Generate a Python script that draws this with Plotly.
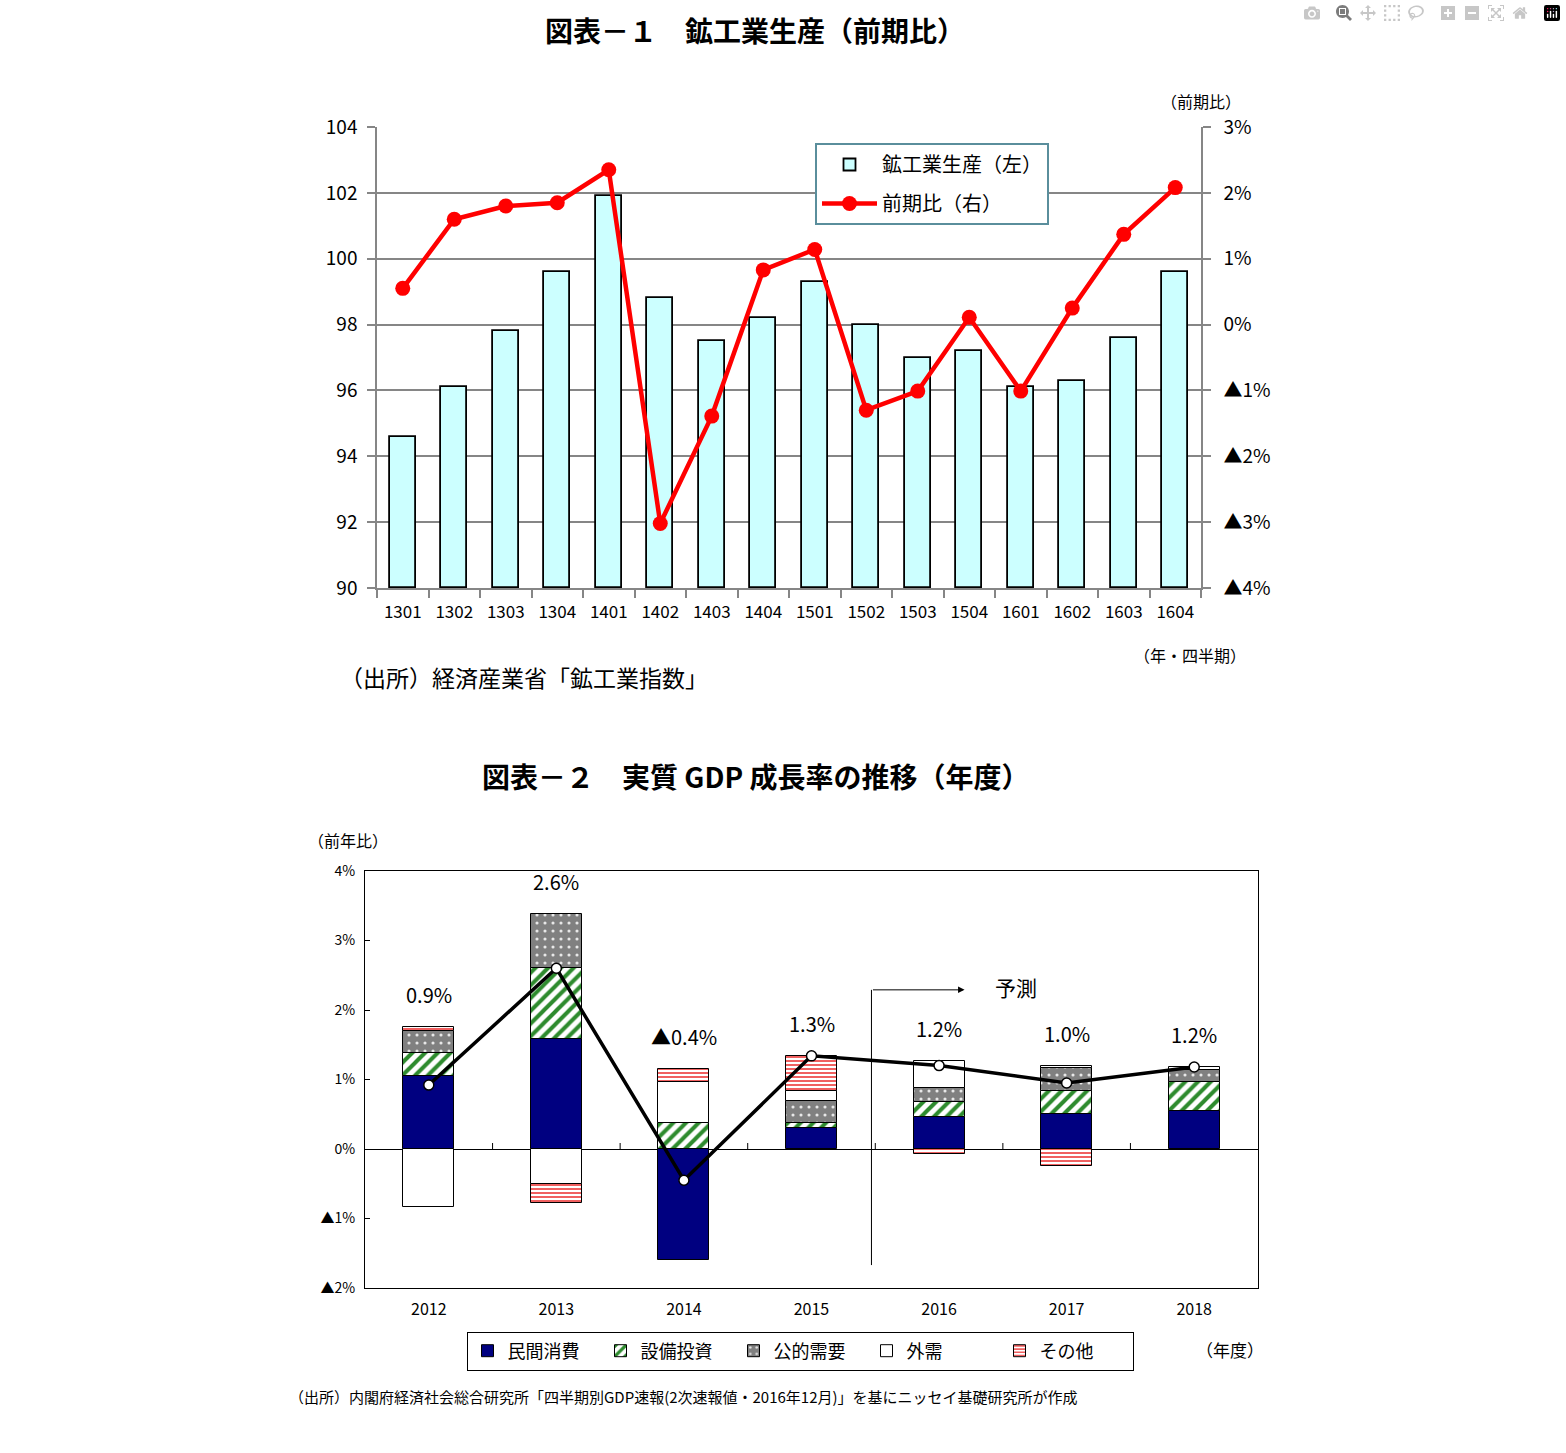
import plotly.graph_objects as go

W, H = 1566, 1453
JP = "Noto Sans CJK JP"

# ---------------- Chart 1 data ----------------
quarters = ["1301", "1302", "1303", "1304", "1401", "1402", "1403", "1404",
            "1501", "1502", "1503", "1504", "1601", "1602", "1603", "1604"]
production = [94.6, 96.1, 97.8, 99.6, 101.9, 98.8, 97.5, 98.2,
              99.3, 98.0, 97.0, 97.2, 96.1, 96.3, 97.6, 99.6]
qoq_change = [0.55, 1.60, 1.80, 1.85, 2.35, -3.02, -1.39, 0.83,
              1.14, -1.30, -1.01, 0.11, -1.01, 0.25, 1.37, 2.08]
left_ticks = [90, 92, 94, 96, 98, 100, 102, 104]
right_ticks = [-4, -3, -2, -1, 0, 1, 2, 3]

# ---------------- Chart 2 data ----------------
years = ["2012", "2013", "2014", "2015", "2016", "2017", "2018"]
private_consumption = [1.05, 1.59, -1.60, 0.30, 0.46, 0.50, 0.55]
capital_investment = [0.33, 1.01, 0.37, 0.08, 0.21, 0.33, 0.42]
public_demand = [0.32, 0.78, None, 0.31, 0.21, 0.33, 0.17]
external_demand = [-0.84, -0.50, 0.59, 0.15, 0.39, 0.03, 0.04]
others = [0.05, -0.28, 0.19, 0.50, -0.07, -0.25, None]
gdp_growth = [0.92, 2.60, -0.45, 1.34, 1.20, 0.95, 1.18]
gdp_labels = [0.9, 2.6, -0.4, 1.3, 1.2, 1.0, 1.2]
gdp_ticks = [-2, -1, 0, 1, 2, 3, 4]


def tri(v, dec=0):
    return ("▲" if v < 0 else "") + f"{abs(v):.{dec}f}%"


def px(x, y):
    return x / W, 1 - y / H


fig = go.Figure()

# ---- chart 1 traces
fig.add_trace(go.Bar(
    x=quarters, y=[p - 90 for p in production], base=90, name="鉱工業生産（左）",
    marker=dict(color="#CCFFFF", line=dict(color="black", width=1.8)),
    width=0.5, xaxis="x", yaxis="y", legend="legend", legendgroup="g1",
    hovertext=[str(p) for p in production],
))
fig.add_trace(go.Scatter(
    x=quarters, y=qoq_change, name="前期比（右）", mode="lines+markers",
    line=dict(color="#FF0000", width=4.5),
    marker=dict(color="#FF0000", size=15),
    xaxis="x", yaxis="y2", legend="legend", legendgroup="g2",
))

# ---- chart 2 traces
comp = [
    ("民間消費", private_consumption, dict(color="#000080")),
    ("設備投資", capital_investment,
     dict(color="white", pattern=dict(shape="/", fgcolor="#2E8B2E", bgcolor="white",
                                      size=9, solidity=0.45, fillmode="replace"))),
    ("公的需要", public_demand,
     dict(color="#808080", pattern=dict(shape=".", fgcolor="#E8E8E8", bgcolor="#808080",
                                        size=8, solidity=0.12, fillmode="replace"))),
    ("外需", external_demand, dict(color="white")),
    ("その他", others,
     dict(color="white", pattern=dict(shape="-", fgcolor="#F06060", bgcolor="white",
                                      size=4, solidity=0.5, fillmode="replace"))),
]
for name, vals, mk in comp:
    mk = dict(mk)
    mk["line"] = dict(color="black", width=1)
    fig.add_trace(go.Bar(
        x=years, y=vals, name=name, marker=mk, width=0.4,
        xaxis="x2", yaxis="y3", legend="legend2",
    ))
fig.add_trace(go.Scatter(
    x=years, y=gdp_growth, mode="lines+markers", showlegend=False,
    line=dict(color="black", width=3.5),
    marker=dict(color="white", size=10, line=dict(color="black", width=1.5)),
    xaxis="x2", yaxis="y3",
))

annotations = []
# GDP labels above stacks
for i, lab in enumerate(gdp_labels):
    top = sum(vals[i] for _, vals, _ in comp if vals[i] is not None and vals[i] > 0)
    annotations.append(dict(
        x=i, y=top, xref="x2", yref="y3", text=tri(lab, 1), showarrow=False,
        yanchor="bottom", yshift=16, font=dict(family=JP, size=20, color="black"),
    ))

# forecast arrow
annotations.append(dict(
    x=4.2, y=2.29, ax=3.47, ay=2.29, xref="x2", yref="y3", axref="x2", ayref="y3",
    text="", showarrow=True, arrowhead=2, arrowsize=1.3, arrowwidth=1, arrowcolor="black",
))

# text annotations
texts = [
    (755, 30, "<b>図表－１　鉱工業生産（前期比）</b>", 28, "center"),
    (755, 776, "<b>図表－２　実質 GDP 成長率の推移（年度）</b>", 28, "center"),
    (1201, 101, "（前期比）", 16, "center"),
    (1190, 655, "（年・四半期）", 16, "center"),
    (338, 677, "（出所）経済産業省「鉱工業指数」", 23, "left"),
    (348, 840, "（前年比）", 16, "center"),
    (1016, 987, "予測", 21, "center"),
    (1230, 1349, "（年度）", 17, "center"),
    (287, 1396, "（出所）内閣府経済社会総合研究所「四半期別GDP速報(2次速報値・2016年12月)」を基にニッセイ基礎研究所が作成", 15, "left"),
]
for tx, ty, t, s, al in texts:
    x, y = px(tx, ty)
    annotations.append(dict(x=x, y=y, xref="paper", yref="paper", text=t, showarrow=False,
                            xanchor=al, yanchor="middle",
                            font=dict(family=JP, size=s, color="black")))

shapes = [
    dict(type="line", xref="x2", yref="y3", x0=3.47, x1=3.47, y0=-1.67, y1=2.29,
         line=dict(color="black", width=1)),
]
for i in range(len(years) - 1):
    shapes.append(dict(type="line", xref="x2", yref="y3", x0=i + 0.5, x1=i + 0.5,
                       ysizemode="pixel", yanchor=0, y0=0, y1=6,
                       line=dict(color="black", width=1)))

x0, _ = px(377, 0)
x1, _ = px(1201, 0)
_, yb = px(0, 588)
_, yt = px(0, 127)
bx0, _ = px(365, 0)
bx1, _ = px(1258, 0)
_, byb = px(0, 1288)
_, byt = px(0, 871)

GRAY = "#868686"
lgx, lgy = px(815, 143)
l2x, l2y = px(800, 1351)

fig.update_layout(
    width=W, height=H, margin=dict(l=0, r=0, t=0, b=0, autoexpand=False),
    paper_bgcolor="white", plot_bgcolor="white",
    font=dict(family=JP, color="black"),
    barmode="relative", bargap=0,
    xaxis=dict(domain=[x0, x1], type="category", range=[-0.5, len(quarters) - 0.5],
               showline=True, linecolor=GRAY, linewidth=1.5,
               ticks="outside", tickson="boundaries", tickcolor=GRAY, ticklen=8, tickwidth=1.5,
               tickfont=dict(size=17), ticklabelstandoff=8,
               showgrid=False, anchor="y", automargin=False),
    yaxis=dict(domain=[yb, yt], range=[90, 104], tickvals=left_ticks,
               ticktext=[str(v) for v in left_ticks], showline=True, linecolor=GRAY,
               linewidth=1.5, ticks="outside", tickcolor=GRAY, ticklen=8, tickwidth=1.5,
               showgrid=True, gridcolor=GRAY, gridwidth=1.5, zeroline=False,
               tickfont=dict(size=19), ticklabelstandoff=6, anchor="x", automargin=False),
    yaxis2=dict(overlaying="y", side="right", range=[-4, 3], tickvals=right_ticks,
                ticktext=[tri(v) for v in right_ticks], showline=True, linecolor=GRAY,
                linewidth=1.5, ticks="outside", tickcolor=GRAY, ticklen=8, tickwidth=1.5,
                showgrid=False, zeroline=False, tickfont=dict(size=19), ticklabelstandoff=9,
                anchor="x", automargin=False),
    xaxis2=dict(domain=[bx0, bx1], type="category", range=[-0.5, len(years) - 0.5],
                showline=True, mirror=True,
                linecolor="black", linewidth=1, ticks="", showgrid=False,
                tickfont=dict(size=16), ticklabelstandoff=7, anchor="y3", automargin=False),
    yaxis3=dict(domain=[byb, byt], range=[-2, 4], tickvals=gdp_ticks,
                ticktext=[tri(v) for v in gdp_ticks], showline=True, mirror=True,
                linecolor="black", linewidth=1, ticks="inside", ticklen=5, tickcolor="black",
                showgrid=False, zeroline=True, zerolinecolor="black", zerolinewidth=1,
                tickfont=dict(size=14), ticklabelstandoff=6, anchor="x2", automargin=False),
    legend=dict(x=lgx, y=lgy, xanchor="left", yanchor="top", bgcolor="white",
                bordercolor="#5A8E9C", borderwidth=2, font=dict(family=JP, size=20),
                itemwidth=55, traceorder="grouped", tracegroupgap=10),
    legend2=dict(x=l2x, y=l2y, xanchor="center", yanchor="middle", orientation="h",
                 bgcolor="white", bordercolor="black", borderwidth=1,
                 font=dict(family=JP, size=18), entrywidth=88, traceorder="normal"),
    annotations=annotations, shapes=shapes,
)

fig.write_html("out.html", post_script="document.body.style.margin='0';")
